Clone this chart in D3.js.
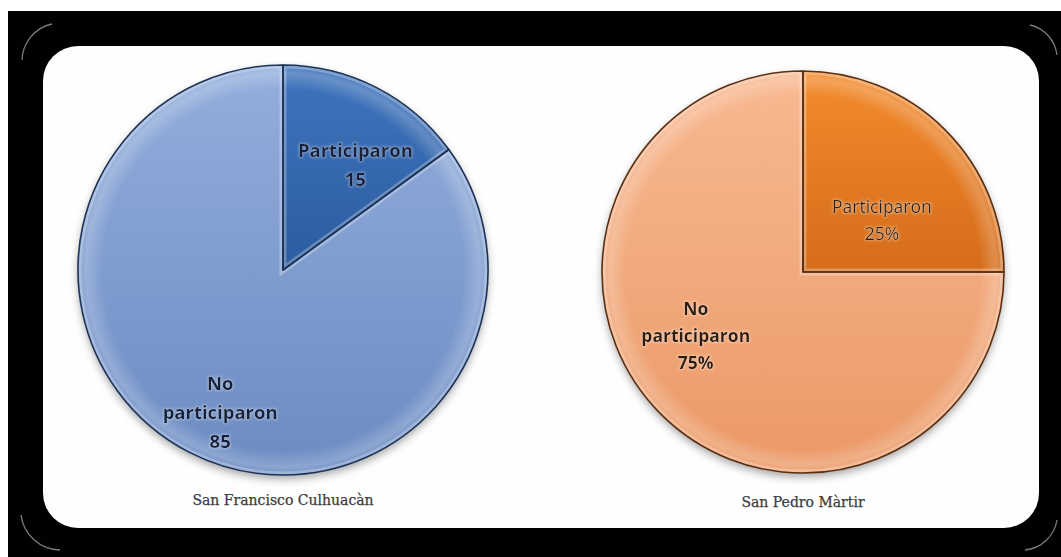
<!DOCTYPE html>
<meta charset="utf-8">
<head>
    <title>Participación</title>
    <style>
        body { margin: 0; background: #fff; }
        .slice-label { font-family: "Open Sans", sans-serif; text-anchor: middle; }
        .pie-title {
            font-family: "DejaVu Serif", serif;
            font-size: 14px;
            fill: #3c3c3c;
            stroke: #3c3c3c;
            stroke-width: 0.25px;
            text-anchor: middle;
        }
    </style>
</head>
<script src="https://d3js.org/d3.v7.min.js"></script>
<svg id="chart" width="1061" height="557"></svg>

<script>
    // data
    const categories = ["Participaron", "No participaron"];
    const culhuacanValues = [15, 85];
    const culhuacanLabels = ["15", "85"];
    const pedroValues = [25, 75];
    const pedroLabels = ["25%", "75%"];
    const titles = ["San Francisco Culhuacàn", "San Pedro Màrtir"];

    const svg = d3.select("#chart"),
        width = +svg.attr("width"),
        height = +svg.attr("height");

    const defs = svg.append("defs");

    // black frame + white panel
    svg.append("rect").attr("x", 8).attr("y", 11).attr("width", width - 8).attr("height", height - 11).attr("fill", "#030000");
    svg.append("rect").attr("x", 43).attr("y", 46).attr("width", 996).attr("height", 482)
        .attr("rx", 35).attr("fill", "#fefefe");

    // faint corner arcs of the outer frame
    const cornerArcs = [
        "M22,60 A38,38 0 0 1 52,24",
        "M21,515 A40,40 0 0 0 60,550",
        "M1030,25 A35,35 0 0 1 1057,55",
        "M1057,520 A36,36 0 0 1 1025,550"
    ];
    svg.selectAll(".corner").data(cornerArcs).join("path")
        .attr("class", "corner")
        .attr("d", d => d)
        .attr("fill", "none")
        .attr("stroke", "#9a9a9a")
        .attr("stroke-width", 1.3)
        .attr("opacity", 0.8);

    // drop shadow
    const shadow = defs.append("filter").attr("id", "shadow")
        .attr("x", "-10%").attr("y", "-10%").attr("width", "120%").attr("height", "125%");
    shadow.append("feDropShadow").attr("dx", 0).attr("dy", 4).attr("stdDeviation", 4)
        .attr("flood-color", "#000").attr("flood-opacity", 0.35);

    const textGlow = defs.append("filter").attr("id", "glow")
        .attr("x", "-20%").attr("y", "-40%").attr("width", "140%").attr("height", "180%");
    textGlow.append("feMorphology").attr("in", "SourceAlpha").attr("operator", "dilate").attr("radius", 1).attr("result", "d");
    textGlow.append("feGaussianBlur").attr("in", "d").attr("stdDeviation", 1).attr("result", "b");
    textGlow.append("feFlood").attr("flood-color", "#fff").attr("flood-opacity", 0.3);
    textGlow.append("feComposite").attr("in2", "b").attr("operator", "in").attr("result", "g");
    const merge = textGlow.append("feMerge");
    merge.append("feMergeNode").attr("in", "g");
    merge.append("feMergeNode").attr("in", "SourceGraphic");

    function gradient(id, top, bottom) {
        const g = defs.append("linearGradient").attr("id", id)
            .attr("x1", 0).attr("y1", 0).attr("x2", 0).attr("y2", 1);
        g.append("stop").attr("offset", "0%").attr("stop-color", top);
        g.append("stop").attr("offset", "100%").attr("stop-color", bottom);
    }
    gradient("blueDark", "#3f74bd", "#2c5c9f");
    gradient("blueLight", "#93aedc", "#6b8bc2");
    gradient("orangeDark", "#f38c2e", "#d46c1a");
    gradient("orangeLight", "#f8b992", "#eb9966");

    const charts = [
        {
            values: culhuacanValues, labels: culhuacanLabels, title: titles[0],
            cx: 283, cy: 270, r: 205,
            fills: ["url(#blueDark)", "url(#blueLight)"],
            stroke: "#1d3458", textColor: "#16233d",
            weights: ["bold", "bold"], fontSize: 18.5, lineH: 29,
            // label anchors: [angle in degrees clockwise from top, fraction of radius]
            labelPos: [[34.7, 0.62], [203.8, 0.76]],
            titleY: 505
        },
        {
            values: pedroValues, labels: pedroLabels, title: titles[1],
            cx: 803, cy: 272, r: 201,
            fills: ["url(#orangeDark)", "url(#orangeLight)"],
            stroke: "#5b2f10", textColor: "#2e1c0c",
            weights: ["normal", "bold"], fontSize: 17.5, lineH: 27,
            labelPos: [[56.6, 0.47], [239.4, 0.62]],
            titleY: 507
        }
    ];

    const pie = d3.pie().sort(null).value(d => d);

    charts.forEach((c, ci) => {
        const arcs = pie(c.values);
        const arc = d3.arc().innerRadius(0).outerRadius(c.r);
        const g = svg.append("g").attr("transform", `translate(${c.cx},${c.cy})`);

        // bevel highlight near the rim, centred on the pie
        const rim = defs.append("radialGradient").attr("id", "rim" + ci)
            .attr("gradientUnits", "userSpaceOnUse")
            .attr("cx", 0).attr("cy", 0).attr("r", c.r);
        rim.append("stop").attr("offset", "88%").attr("stop-color", "#fff").attr("stop-opacity", 0);
        rim.append("stop").attr("offset", "96%").attr("stop-color", "#fff").attr("stop-opacity", 0.22);
        rim.append("stop").attr("offset", "100%").attr("stop-color", "#fff").attr("stop-opacity", 0.05);

        // shadow base
        g.append("circle").attr("r", c.r).attr("fill", "#888").attr("filter", "url(#shadow)");

        arcs.forEach((a, i) => {
            const clipId = `clip${ci}_${i}`;
            defs.append("clipPath").attr("id", clipId)
                .append("path").attr("d", arc(a));

            const sg = g.append("g").attr("clip-path", `url(#${clipId})`);
            sg.append("path").attr("d", arc(a)).attr("fill", c.fills[i]);
            sg.append("path").attr("d", arc(a)).attr("fill", `url(#rim${ci})`);
            // inner bevel along the slice edges
            sg.append("path")
                .attr("d", arc(a))
                .attr("fill", "none")
                .attr("stroke", "#fff")
                .attr("stroke-opacity", 0.28)
                .attr("stroke-width", 7);
        });

        g.selectAll(".outline").data(arcs).join("path")
            .attr("class", "outline")
            .attr("d", arc)
            .attr("fill", "none")
            .attr("stroke", c.stroke)
            .attr("stroke-width", 1.6)
            .attr("stroke-linejoin", "round");

        // labels
        arcs.forEach((a, i) => {
            const [deg, f] = c.labelPos[i];
            const ang = deg * Math.PI / 180;
            const x = Math.sin(ang) * c.r * f;
            const y = -Math.cos(ang) * c.r * f;
            const lines = categories[i] === "No participaron"
                ? ["No", "participaron", c.labels[i]]
                : [categories[i], c.labels[i]];
            const t = g.append("text")
                .attr("class", "slice-label")
                .attr("filter", "url(#glow)")
                .style("font-size", c.fontSize + "px")
                .style("font-weight", c.weights[i])
                .attr("fill", c.textColor);
            const y0 = y - (lines.length - 1) * c.lineH / 2 + c.fontSize * 0.35;
            lines.forEach((l, k) => {
                t.append("tspan").attr("x", x).attr("y", y0 + k * c.lineH).text(l);
            });
        });

        svg.append("text")
            .attr("class", "pie-title")
            .attr("x", c.cx)
            .attr("y", c.titleY)
            .text(c.title);
    });
</script>
